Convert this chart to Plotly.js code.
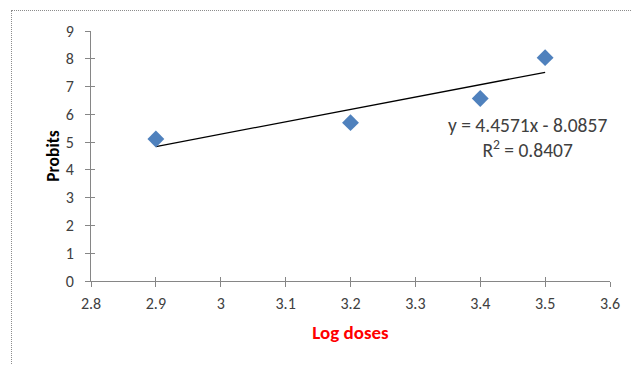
<!DOCTYPE html>
<html>
<head>
<meta charset="utf-8">
<script src="https://cdn.plot.ly/plotly-3.0.1.min.js"></script>
<style>
  html, body { margin: 0; padding: 0; background: #fff; }
  #chart { width: 632px; height: 365px; }
  #frame { position: absolute; left: 11px; top: 10px; width: 700px; height: 500px;
           border: 1px dotted #8c8c8c; pointer-events: none; box-sizing: border-box; }
</style>
</head>
<body>
<div id="chart"></div>
<div id="frame"></div>
<script>
// Data
const logDoses = [2.9, 3.2, 3.4, 3.5];
const probits  = [5.11, 5.70, 6.57, 8.04];
// Trendline coefficients as printed on the chart
const slope = [4.4571];
const intercept = [-8.0857];
const rSquared = ["0.8407"];
const xTicks = [2.8, 2.9, 3.0, 3.1, 3.2, 3.3, 3.4, 3.5, 3.6];
const xTickText = ["2.8", "2.9", "3", "3.1", "3.2", "3.3", "3.4", "3.5", "3.6"];
const yTicks = [0, 1, 2, 3, 4, 5, 6, 7, 8, 9];

const xMin = Math.min(...logDoses), xMax = Math.max(...logDoses);
const trendX = [xMin, xMax];
const trendY = trendX.map(x => slope[0] * x + intercept[0]);

const font = "Carlito, Lato, 'Open Sans', sans-serif";

const traces = [
  { x: trendX, y: trendY, type: 'scatter', mode: 'lines',
    line: { color: '#000', width: 1.3 }, hoverinfo: 'skip', showlegend: false },
  { x: logDoses, y: probits, type: 'scatter', mode: 'markers',
    marker: { symbol: 'diamond', size: 13, color: '#4F81BD' }, showlegend: false },
  { x: [xMin], y: [0], xaxis: 'x2', yaxis: 'y2', type: 'scatter', mode: 'markers',
    marker: { opacity: 0 }, hoverinfo: 'skip', showlegend: false }
];

const axisCommon = {
  showgrid: false, zeroline: false, showline: true, linecolor: '#868686', linewidth: 1,
  ticks: 'outside', ticklen: 5, tickcolor: '#868686', tickwidth: 1,
  tickfont: { family: font, size: 16, color: '#404040' }
};

const layout = {
  width: 632, height: 365,
  margin: { l: 91, r: 22, t: 31, b: 84 },
  paper_bgcolor: 'rgba(0,0,0,0)', plot_bgcolor: 'rgba(0,0,0,0)',
  showlegend: false,
  xaxis: Object.assign({}, axisCommon, {
    range: [2.8, 3.6], tickvals: xTicks, ticktext: xTickText, ticklabelstandoff: 3,
    title: { text: '<b>Log doses</b>', font: { family: font, size: 19, color: '#ff0000' }, standoff: 13 }
  }),
  yaxis: Object.assign({}, axisCommon, {
    range: [0, 9], tickvals: yTicks, ticklabelstandoff: 8,
    title: { text: '<b>Probits</b>', font: { family: font, size: 17.5, color: '#000' }, standoff: 1 }
  }),
  xaxis2: { overlaying: 'x', matches: 'x', range: [2.8, 3.6], tickvals: xTicks, showticklabels: false,
    ticks: 'inside', ticklen: 4, tickcolor: '#868686', showgrid: false, zeroline: false, showline: false },
  yaxis2: { overlaying: 'y', matches: 'y', range: [0, 9], tickvals: yTicks, showticklabels: false,
    ticks: 'inside', ticklen: 4, tickcolor: '#868686', showgrid: false, zeroline: false, showline: false },
  annotations: [
    { x: 3.4724, y: 5.15, xref: 'x', yref: 'y', xanchor: 'center', yanchor: 'middle', showarrow: false,
      align: 'center',
      text: 'y = ' + slope[0] + 'x - ' + Math.abs(intercept[0]).toFixed(4) + '<br>R<sup>2</sup> = ' + rSquared[0],
      font: { family: font, size: 19.5, color: '#404040' } }
  ]
};

Plotly.newPlot('chart', traces, layout, { displayModeBar: false, staticPlot: true });
</script>
</body>
</html>
